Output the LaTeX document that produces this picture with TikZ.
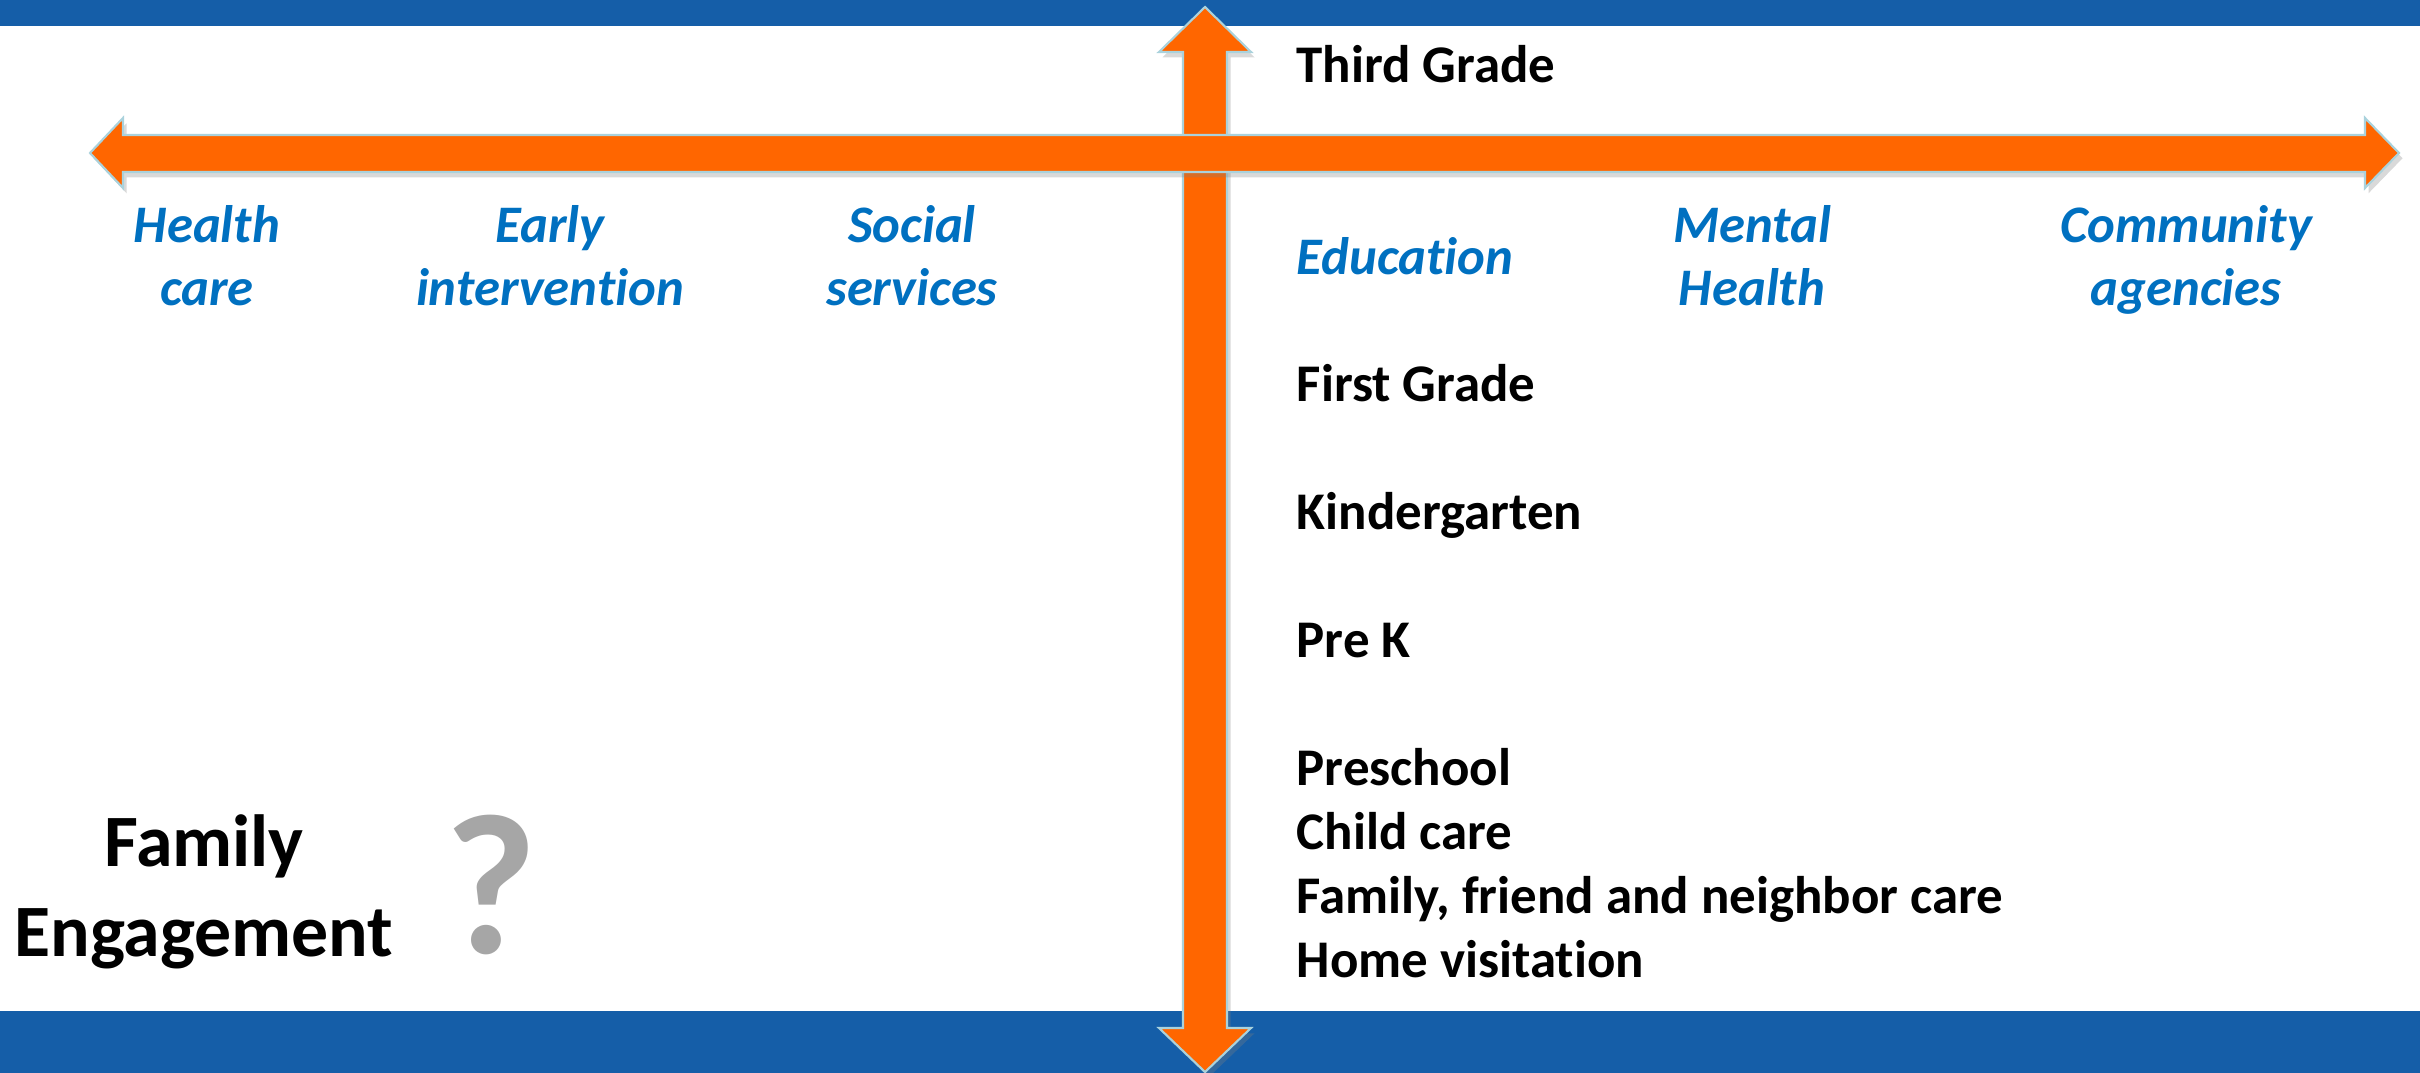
\documentclass[tikz,border=0pt]{standalone}
\usepackage{fontspec}
\setmainfont{Carlito}[Ligatures=NoCommon]
\usetikzlibrary{shadows}
\definecolor{barblue}{RGB}{21,94,168}
\definecolor{arroworange}{RGB}{255,102,0}
\definecolor{labelblue}{RGB}{0,112,192}
\definecolor{edgeblue}{RGB}{170,210,220}
\definecolor{qgray}{RGB}{166,166,166}

\begin{document}
\begin{tikzpicture}[x=0.01cm, y=-0.01cm,
  bar/.style={fill=barblue, draw=none},
  axis arrow/.style={fill=arroworange, draw=edgeblue, line width=0.6pt,
    drop shadow={shadow xshift=1pt, shadow yshift=-1.5pt, opacity=0.3}},
  grade/.style={anchor=base west, inner sep=0pt,
    font=\fontsize{15.05}{18}\selectfont\bfseries},
  sector/.style={align=center, text=labelblue, inner sep=0pt,
    font=\fontsize{15}{18}\selectfont\bfseries\itshape}]

\useasboundingbox (0,0) rectangle (2420,1073);

\fill[bar] (0,0) rectangle (2420,26);
\fill[bar] (0,1011) rectangle (2420,1073);

% age axis (vertical), then the systems axis on top
\draw[axis arrow] (1183,1028) -- (1183,52) -- (1159,52) -- (1205,7) -- (1251,52)
  -- (1227,52) -- (1227,1028) -- (1251,1028) -- (1205,1072) -- (1159,1028) -- cycle;
\draw[axis arrow] (123,135) -- (2365,135) -- (2365,118) -- (2399,153) -- (2365,188)
  -- (2365,172) -- (123,172) -- (123,188) -- (90,153) -- (123,118) -- cycle;

\foreach \t/\y [count=\i] in {Third Grade/83, First Grade/401, Kindergarten/529,
    Pre K/657, Preschool/785, Child care/849,
    {Family, friend and neighbor care}/913, Home visitation/977}
  \node[grade] (grade-\i) at (1296,\y) {\t};

\foreach \t/\x/\y [count=\i] in {Health\\care/207/256, Early\\intervention/550/256,
    Social\\services/912/256, Education/1405/256, Mental\\Health/1752/256,
    Community\\agencies/2186/260}
  \node[sector] (sector-\i) at (\x,\y) {\t};

\node[align=center, inner sep=0pt, font=\fontsize{21}{25.6}\selectfont\bfseries]
  (family) at (204,892) {Family\\Engagement};
\node[text=qgray, inner sep=0pt, font=\fontsize{57}{60}\selectfont\bfseries]
  (qmark) at (491,885) {?};

\end{tikzpicture}
\end{document}
